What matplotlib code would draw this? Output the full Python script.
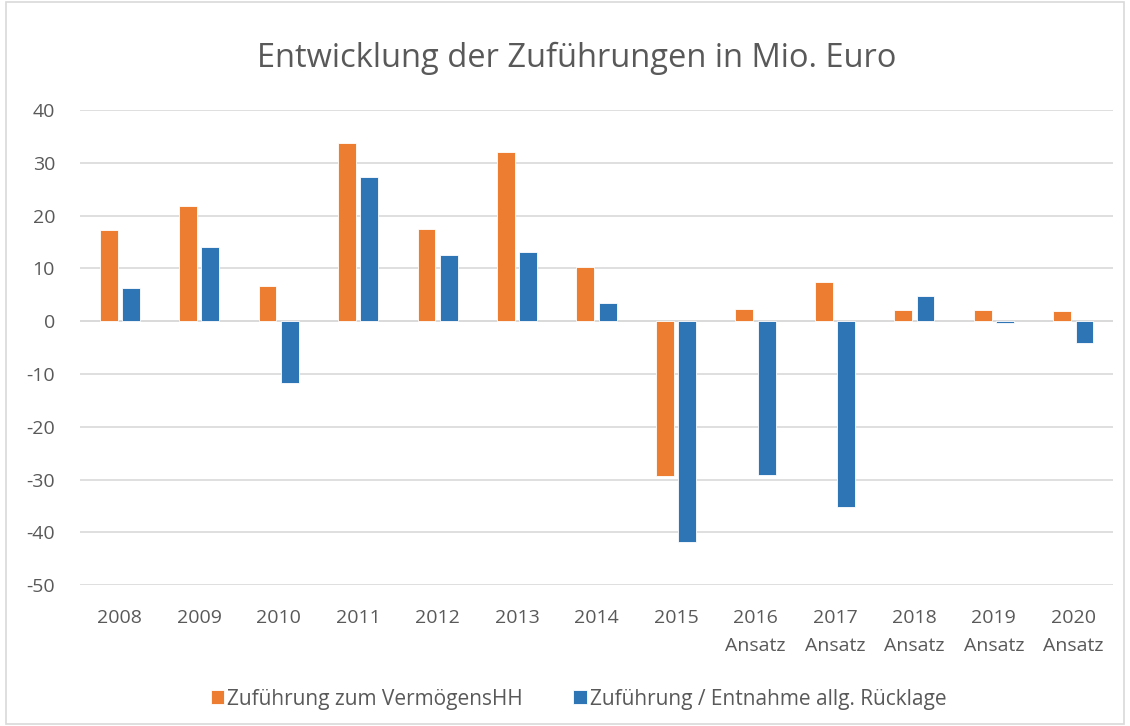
import matplotlib
matplotlib.use("Agg")
import matplotlib.pyplot as plt
import numpy as np
from matplotlib.patches import Rectangle

categories = ["2008", "2009", "2010", "2011", "2012", "2013", "2014", "2015",
              "2016\nAnsatz", "2017\nAnsatz", "2018\nAnsatz", "2019\nAnsatz", "2020\nAnsatz"]
vermoegen = [17.2, 21.8, 6.6, 33.7, 17.5, 32.0, 10.2, -29.3, 2.3, 7.5, 2.2, 2.2, 2.0]
ruecklage = [6.2, 14.0, -11.8, 27.4, 12.5, 13.1, 3.5, -41.8, -29.2, -35.2, 4.7, -0.3, -4.1]
yticks = [40, 30, 20, 10, 0, -10, -20, -30, -40, -50]

plt.rcParams['font.family'] = ['Open Sans', 'DejaVu Sans']
plt.rcParams['axes.unicode_minus'] = False
orange = "#ED7D31"
blue = "#2E75B6"
grey = "#595959"

fig = plt.figure(figsize=(11.3, 7.26), dpi=100)
fig.patches.append(Rectangle((0.005, 0.003), 0.99, 0.994, transform=fig.transFigure,
                             fill=False, edgecolor="#D9D9D9", linewidth=1.2))
ax = fig.add_axes([0.0708, 0.194, 0.9142, 0.6545])
x = np.arange(len(categories))
w = 0.225
ax.bar(x - 0.14, vermoegen, w, color=orange, edgecolor="white", linewidth=0.6,
       label="Zuführung zum VermögensHH", zorder=3)
ax.bar(x + 0.14, ruecklage, w, color=blue, edgecolor="white", linewidth=0.6,
       label="Zuführung / Entnahme allg. Rücklage", zorder=3)
ax.set_xlim(-0.5, len(categories) - 0.5)
ax.set_ylim(-50, 40)
ax.set_yticks(yticks)
ax.set_xticks(x)
ax.set_xticklabels(categories, fontsize=14, color=grey, linespacing=1.75)
ax.tick_params(axis="y", labelsize=14, colors=grey, length=0, pad=18)
ax.tick_params(axis="x", length=0, pad=17)
ax.grid(axis="y", color="#D9D9D9", linewidth=1.2, zorder=0)
for s in ax.spines.values():
    s.set_visible(False)
ax.axhline(0, color="#D9D9D9", linewidth=1.2, zorder=1)

fig.text(0.51, 0.92, "Entwicklung der Zuführungen in Mio. Euro", ha="center", va="center",
         fontsize=23.5, color=grey)
fig.legend(loc="center", bbox_to_anchor=(0.512, 0.037), ncol=2, frameon=False,
           fontsize=15, handlelength=0.65, handleheight=0.65, handletextpad=0.15,
           columnspacing=2.4, labelcolor=grey)
fig.savefig("out.png", dpi=100)
